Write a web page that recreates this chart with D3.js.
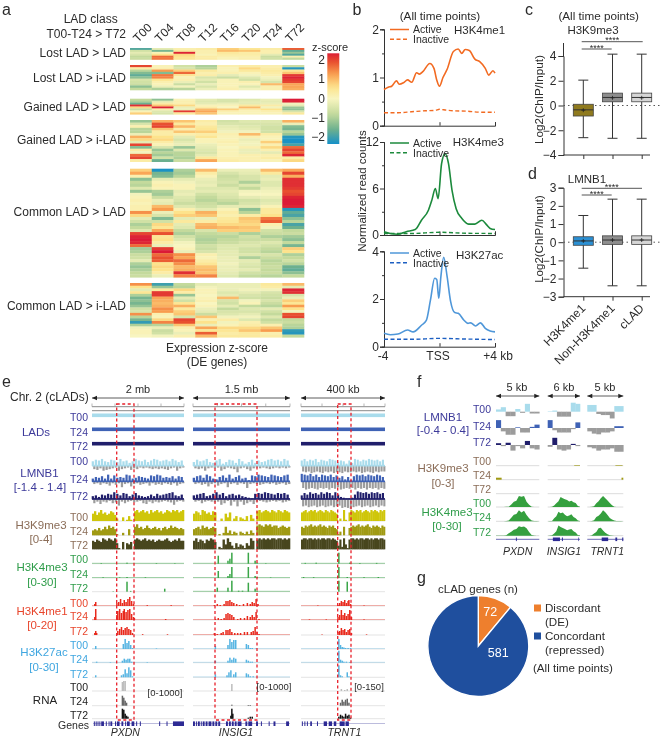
<!DOCTYPE html>
<html><head><meta charset="utf-8">
<script src="https://cdn.jsdelivr.net/npm/d3@7"></script>
<style>
html,body{margin:0;padding:0;background:#fff}
svg{display:block;font-family:"Liberation Sans",Arial,sans-serif;fill:#2b2b2b}
.blurred{filter:blur(0.4px)}
</style></head><body><div id="c"></div>
<script>
// ---------- panel a ----------
const timepoints=["T00","T04","T08","T12","T16","T20","T24","T72"];
const blockNames=["Lost LAD > LAD","Lost LAD > i-LAD","Gained LAD > LAD","Gained LAD > i-LAD","Common LAD > LAD","Common LAD > i-LAD"];
const lostLad=[[-1.8,-.3,.2,.3,.8,.5,.3,1.8],[-.6,-1.5,.4,.2,1,.9,.2,-1.7],[-.3,.1,2.3,.2,.4,.3,.2,-1.2],[-.5,.6,.7,.1,.3,.3,-.3,-1.8],[-.8,1.7,.6,.3,.2,.2,-.7,.2],[-.7,1.6,.5,.3,.1,.2,-.6,-.8]];
const lostILad=[[2,.1,-.6,-1,.2,.3,.2,-.7],[.3,.2,-.5,-.9,.1,.7,.3,-2.2],[-.9,1.3,.8,.4,.1,.4,.4,.5],[-1.4,-1.4,1.7,.2,.2,.1,.3,.9],[-1.7,1.6,.5,.3,-.3,-.1,.2,2.1],[-1.3,1.5,.1,-.5,-.7,-.4,-.1,2.3],[-.5,.5,.2,-.3,.1,-.6,-.2,2.1],[-.6,.2,-.2,-.6,.1,.2,-.5,2],[-.7,.1,-.7,-.2,.1,.1,1,1.2],[-1.3,-.2,-.1,-.5,.1,-.4,.2,1.2],[-.8,-1,-.9,-.2,.2,-.1,.2,1.1]];
const gainedLad=[[-.8,-1.3,.1,-.3,-.5,-.4,-.2,2.4],[-1,-.3,.2,-.4,-.5,-.3,-.3,2.3],[-1.6,.3,.2,-.3,-.2,-.3,-.2,-.1],[2.2,.9,.7,.1,.1,.4,.3,-.3],[.7,2.3,-.2,.3,0,1,-.1,-1.2],[-.7,.2,-.2,1,.8,.3,.6,-1.3],[.1,-.4,2.1,1.2,.2,.1,.2,-.5],[.8,-.5,.4,.9,.1,.1,.1,.4]];
const gainedILad=[[-1.2,1.1,.9,.3,-.6,-.4,-.4,1.1],[-.5,1.9,.4,.2,-.5,-.5,-.5,-.2],[.2,2,1,.4,-.3,-.4,-.6,-1.4],[-.9,.9,.2,.5,-.2,-.3,-.6,-1.5],[-.9,.3,.9,.8,-.1,-.1,-.6,-.9],[-.2,.3,.2,.3,.2,1,.3,-1.2],[1.1,.6,-.3,.5,.1,.2,.1,-2.2],[.7,.7,-.5,.1,.1,-.2,.1,-2.3],[-.3,.3,-.3,.1,.2,-.1,.8,-2.3],[2,.1,-.2,-.2,.1,-.1,.2,-1.9],[-1.4,-.5,-1.2,-.3,0,.2,.7,1.7],[.3,-1.2,-.4,-.4,.1,-.2,.2,2],[-.1,-.9,-.9,-.5,.1,-.2,-.3,1.7],[1.7,-1.1,-.9,-.3,.1,.2,.2,2.3],[2,-.6,-1,.4,.2,.2,.3,.3],[.3,-1.6,-.7,1.2,.3,.2,.1,.7]];
const commonLad=[[.8,-2.3,-1,1,-.2,-.2,1,1.2],[1.2,-1.5,-1.1,.3,-.5,-.3,.4,2],[.2,-1.4,-.9,.1,-.7,-.5,-.3,1.1],[-1.3,-.3,-.3,-.2,-.6,-.5,-.2,2.2],[-.8,.1,-.1,-.3,-.5,-1,-.4,2.2],[-.9,.2,.1,-.2,-.7,-.4,-.4,2.2],[-.4,.1,.1,-.4,-.4,-.8,-.2,2.1],[-1.2,-1,-.3,-.3,-.3,-.1,-.1,1.9],[-.1,-1.1,-.2,-.6,-.4,0,0,2],[.1,-.7,-.4,-.8,-.5,-.3,-.2,2.3],[.2,-.2,-.5,-.9,-.7,-.6,-.4,2.4],[.1,-.3,-.7,-.7,-.9,-.5,-.3,2.4],[.2,1,-.4,-.6,-.3,-.3,.1,2.3],[.2,1.3,.2,-.3,.1,-1.3,.4,-2.2],[1.4,-.2,.6,1.1,.3,-.9,.4,-1.7],[.7,-.5,.8,.9,.2,.3,.6,-1.9],[-.3,-1.4,-.3,-.2,.4,.9,1.6,-1.3],[-.6,-.6,.4,.3,.5,.8,1.8,-.9],[-1,.7,-.3,1,.7,.7,.2,-1.9],[-.8,.5,-.4,1.1,1,.9,-.1,-1.6],[-.4,1.2,-.8,-.5,.8,.8,-.6,-.8],[2,1.9,-1,-.8,-.7,-1,-.7,-.7],[2.3,.5,-.6,-.9,-.9,-.6,-1,-1.1],[2.4,.6,-.4,-1,-.8,-.7,-.7,-1.3],[2.3,.3,-.1,-.9,-.7,-.5,-.4,-.8],[1.7,-.2,0,-.6,-.4,-.4,-.6,-1.5],[-1.1,2.1,.1,-.7,-.4,-.6,-.8,.8],[-1,2.4,-.2,-.5,-.3,-.6,-.9,.6],[-.7,1.7,1.4,.2,-.3,-.4,-.5,-1],[-.6,1.9,1.2,.1,-.2,-1,-.7,-.8],[-.3,1.8,1.7,.3,-.2,-.3,-.9,-.6],[-1,.6,1.4,.5,-.1,-.4,-.8,-.9],[-1.2,.7,1,.9,-.2,-.5,-.7,-1.6],[-1,.6,1.1,1,-.2,-.3,-.8,-1.7],[-.8,.3,2.2,.9,-.3,-.6,-.7,-1.3],[-.7,-.2,1.5,1.5,-.4,-.8,-.9,-.8]];
const commonILad=[[1.4,-2,-.8,-.3,-.2,-.2,.4,1],[.6,-1.2,-.9,-.1,-.2,-.2,.3,-.3],[-.3,.4,.7,.1,-.2,-.1,-.1,2.3],[.5,2.1,.3,.1,-.4,-.3,-.5,2.2],[-1,2.1,-1.2,0,-.3,-.5,-.6,-.5],[-1.5,1.2,-.3,.1,1,-.6,-.7,-.2],[-1.3,1.1,-.6,.2,-.5,-.1,-.5,.8],[-1.5,1,.5,0,-.6,.1,-.7,.5],[-1.2,1.1,1.1,.1,-.3,-.8,-.9,1.3],[-.6,1.4,.4,-.2,-.8,-.4,-.3,.6],[-.5,1.3,.8,-.3,-.5,-.5,-.6,-.1],[1.4,.2,.9,-.7,-.4,-.3,-.8,1.9],[-.9,.1,-.5,.9,-.1,-.1,-.4,2],[-1.5,.7,2,.2,.3,-.4,-.8,-.8],[-2.1,1.5,1.9,.6,-.1,.2,-.6,-.7],[-1,-.9,.9,-.2,.1,.3,.2,-.9],[-.1,-.2,.2,1.2,.7,.7,.9,-1],[.1,-.7,.1,.5,.5,.9,1.3,-2.1],[.1,-.6,-.2,1.8,.3,.4,.2,-2.2],[0,-.1,.2,1,.4,.4,.3,-.8]];
const zTicks=[2,1,0,-1,-2];
// ---------- panel b ----------
const me1ActiveX=[-4,-3.7,-3.45,-3.1,-2.9,-2.6,-2.3,-2,-1.65,-1.45,-1.2,-.7,-.4,-.2,0,.25,.55,1,1.35,1.6,1.85,2.15,2.55,2.9,3.3,3.55,3.85,4];
const me1Active=[.75,.8,.82,.93,.86,.89,.95,.9,1.1,1.07,1.12,1.29,1.19,.95,.82,1,1.17,1.54,1.59,1.5,1.58,1.56,1.38,1.33,1.19,1.05,1.14,1.09];
const me1InactiveX=[-4,-3,-2,-1,-.3,0,.3,1,2,3,4];
const me1Inactive=[.27,.27,.29,.31,.32,.34,.33,.31,.3,.28,.28];
const me3ActiveX=[-4,-3.55,-3,-2.4,-1.75,-1.3,-.8,-.55,-.3,-.1,.15,.4,.65,.9,1.2,1.6,2.1,2.55,3.05,3.4,3.65,4];
const me3Active=[.43,.2,.1,.43,.7,1.9,3.2,4.5,6,4.7,9.2,10.5,9.2,5.8,3.4,2.15,1.4,1.4,1.9,1.3,.85,.7];
const me3InactiveX=[-4,-2,0,2,4];
const me3Inactive=[.2,.2,.35,.22,.2];
const acActiveX=[-4,-3.55,-3,-2.3,-1.9,-1.3,-.95,-.65,-.35,-.2,-.05,.1,.3,.55,.8,1.1,1.35,1.75,2.05,2.25,2.6,2.95,3.3,3.65,4];
const acActive=[.56,.5,.53,.7,.62,.9,1.1,1.96,2.87,2.82,2.03,2.94,3.75,2.94,1.9,1.43,1.4,1.12,.98,1,.87,1,.77,.66,.62];
const acInactiveX=[-4,-2,0,2,4];
const acInactive=[.31,.31,.35,.32,.3];
// ---------- panels c, d ----------
const boxCats=["H3K4me1","Non-H3K4me1","cLAD"];
const boxColorsC=["#8f7a1e","#8e8e8e","#d6d6d6"];
const boxColorsD=["#2b90d4","#8e8e8e","#d6d6d6"];
const k9Box=[[-2.6,-.85,-.35,.1,2.05,-.38],[-2.65,.3,.65,1,4.15,.62],[-2.65,.3,.65,1,4.15,.62]];
const lmnBox=[[-1.43,-.17,.07,.3,1.47,.07],[-2.4,-.12,.12,.35,2.37,.12],[-2.4,-.12,.12,.35,2.37,.12]];
// ---------- panel e ----------
const regionLabels=["2 mb","1.5 mb","400 kb"];
const geneNames=["PXDN","INSIG1","TRNT1"];
const lmnb1E=[[
[6,-4,8,-5,7,-3,9,-6,6,-5,5,-4,8,-3,7,-2,5,-6,9,-4,6,-3,7,-2,4,-5,6,-3,9,-4,7,-2,6,-3,8,-2,5,-3,7,-4,9,-3,8,-4,6,-3,7,-4,8,-5,6,-3,9,-2,7,-6,5,-3,7,-2],
[4,-3,6,-2,5,-4,7,-2,4,-3,9,-5,4,-2,8,-4,5,-2,6,-7,5,-3,9,-2,8,-6,4,-3,5,-2,7,-4,6,-3,5,-2,4,-5,8,-2,7,-4,9,-3,8,-4,5,-2,6,-3,5,-4,7,-2,4,-5,7,-3,6,-2],
[4,-5,5,-3,3,-6,6,-3,5,-4,7,-2,6,-5,9,-4,7,-8,5,-3,8,-5,7,-3,4,-2,6,-4,8,-3,5,-2,4,-5,3,-6,4,-3,6,-5,4,-3,7,-4,5,-3,6,-2,7,-3,8,-4,9,-7,5,-3,4,-2,6,-3]],
[
[5,-3,8,-4,6,-3,7,-6,9,-3,5,-2,4,-3,7,-2,9,-6,3,-4,5,-2,8,-3,7,-4,4,-8,9,-3,6,-2,3,-4,5,-6,8,-3,4,-2,7,-3,5,-2,6,-3,8,-4,9,-3,7,-2,8,-3,6,-2,9,-3,7,-2],
[5,-3,7,-2,8,-4,5,-3,9,-6,7,-3,4,-2,3,-5,6,-3,8,-2,5,-7,9,-3,4,-2,6,-4,8,-2,4,-3,5,-8,2,-3,8,-2,7,-3,9,-4,8,-3,7,-2,6,-3,9,-2,8,-4,7,-3,6,-2,8,-4,9,-3],
[5,-3,6,-2,7,-5,8,-3,4,-2,5,-3,7,-4,9,-3,6,-7,8,-5,4,-2,6,-8,7,-3,5,-9,6,-3,4,-7,3,-5,2,-3,1,-6,7,-3,8,-2,7,-3,9,-4,8,-3,7,-2,6,-3,8,-2,7,-4,8,-3,6,-2]],
[
[7,-7,9,-8,6,-7,8,-9,7,-8,9,-7,5,-8,8,-9,7,-7,6,-8,9,-7,8,-9,7,-8,5,-8,7,-9,6,-7,3,-8,7,-8,4,-7,9,-8,8,-7,6,-9,8,-8,7,-7,9,-8,8,-9,7,-7,8,-8,6,-7,8,-7],
[10,-8,9,-10,8,-9,10,-8,7,-9,9,-10,6,-8,9,-9,8,-8,7,-10,9,-8,6,-9,8,-7,5,-10,7,-9,3,-8,6,-9,2,-8,7,-10,9,-8,8,-9,9,-8,7,-10,9,-8,8,-9,7,-8,9,-10,8,-8,6,-9],
[5,-9,8,-8,6,-10,9,-9,7,-8,8,-10,6,-9,9,-8,7,-10,9,-9,8,-8,5,-10,9,-9,6,-8,3,-11,2,-10,1,-11,1,-12,2,-10,6,-9,10,-8,9,-10,8,-9,9,-8,7,-10,9,-9,8,-8,9,-10,7,-8,8,-9]]];
const k9E=[[
[6,8,5,7,9,6,7,5,6,8,7,5,2,0,0,3,0,1,4,1,0,8,9,7,8,9,7,8,6,9,7,8,9,7,8,6,7,9,8,7,9,8,9,7,8,9],
[4,5,4,6,4,5,7,5,8,6,7,5,1,0,0,2,0,0,5,0,0,7,9,6,7,5,6,8,6,5,6,7,5,6,4,6,7,5,6,8,6,7,6,5,6,5],
[7,6,8,7,6,9,8,7,9,8,7,9,5,1,0,6,0,5,4,6,0,8,9,8,7,8,9,7,8,7,8,6,7,8,7,7,8,9,7,6,7,8,7,9,7,7]],
[
[6,8,7,5,9,8,6,7,5,8,7,0,0,2,0,6,3,7,0,2,4,0,3,2,1,4,0,5,2,0,8,9,7,8,9,8,7,9,8,7,9,8,7,9,8,7],
[5,6,7,5,8,6,7,5,6,7,6,0,1,0,2,7,2,4,1,3,2,0,3,2,1,3,1,4,2,0,8,9,8,7,9,8,9,7,8,8,6,7,8,7,6,7],
[7,9,6,8,7,5,8,7,9,8,6,0,2,1,8,4,9,6,3,1,5,2,4,3,1,5,3,9,7,0,8,9,8,9,8,9,8,9,9,8,9,9,8,9,8,9]],
[
[7,8,9,7,8,9,8,9,7,8,9,8,7,9,8,7,9,8,7,6,0,2,0,9,1,0,7,9,8,7,9,8,9,7,8,9,8,7,9,8,9,8,7,9,8,9],
[7,6,8,7,8,9,7,8,7,8,9,7,8,7,6,8,7,8,6,5,1,3,0,7,0,0,6,7,8,7,8,9,7,8,7,8,9,7,6,8,7,8,7,6,8,7],
[8,9,9,8,9,9,8,9,8,9,8,9,9,8,9,9,8,9,8,7,3,8,2,9,4,1,8,9,9,8,9,8,9,9,8,9,9,8,9,8,9,9,8,9,9,8]]];
const me3E=[[
[[38,1],[10,.6],[70,.6],[90,.5]],
[[12,.7],[38,1],[58,.7],[30,.6]],
[[38,10],[79,3],[42,.8],[23,.4]]],
[
[[26,8],[36,3],[38,5],[40,11],[57,11],[64,3],[66,1],[75,.5]],
[[26,7],[36,2],[38,4],[40,11],[57,11],[64,2],[66,1],[80,.5]],
[[25,4],[36,4],[40,11],[47,1],[51,1],[57,9],[64,3],[66,1]]],
[
[[45,11],[5,.8],[18,1],[58,1],[70,.7],[90,.8]],
[[45,11],[3,1],[15,.8],[55,1],[75,.8],[92,1]],
[[45,11],[55,10]]]];
const me1E=[[
[[4,4],[3,2],[27,3],[29,4],[31,7],[33,3],[35,6],[37,4],[39,7],[41,9],[43,5],[45,2],[60,.8],[86,.8]],
[[4,11],[3,3],[27,5],[28,9],[30,11],[32,7],[34,9],[35,11],[37,8],[39,10],[41,11],[43,6],[45,3],[46,2],[80,1]],
[[4,4],[3,2],[5,2],[28,4],[30,6],[32,8],[34,5],[36,7],[38,8],[40,6],[42,5],[44,2],[55,.8],[82,.7]]],
[
[[22,1],[25,2],[28,1],[32,2],[34,5],[36,5],[38,6],[40,4],[42,3],[45,2],[48,1],[52,2],[56,3],[59,2],[61,4],[63,3],[65,7],[67,2]],
[[23,1],[26,2],[29,1],[32,2],[34,6],[36,7],[38,6],[40,5],[42,3],[46,1],[49,2],[53,2],[56,4],[59,3],[61,5],[63,3],[65,8],[68,1]],
[[22,2],[25,1],[29,2],[31,3],[34,5],[36,5],[38,6],[40,3],[43,2],[46,2],[49,2],[53,3],[56,3],[60,3],[62,4],[64,8],[66,3],[68,1]]],
[
[[44,1],[46,3],[48,5],[50,4],[52,6],[54,3],[56,5],[57,6],[59,2],[20,.5],[75,.5]],
[[44,3],[46,5],[48,10],[50,5],[52,7],[54,4],[56,6],[58,10],[60,3],[10,.6],[30,.6],[75,.6]],
[[44,3],[46,4],[48,7],[50,5],[52,6],[54,3],[56,5],[58,6],[60,2],[25,.5],[78,.6]]]];
const acE=[[
[[4,3],[34,5],[36,10],[38,6],[40,8],[42,4],[44,1],[70,.5]],
[[5,1],[20,.5],[33,2],[35,4],[37,3],[39,4],[41,4],[43,1],[60,.5]],
[[4,2],[32,2],[34,3],[36,8],[38,4],[40,10],[42,7],[44,1]]],
[
[[23,3],[36,4],[38,10],[40,7],[42,9],[44,9],[55,5],[57,4],[59,1],[61,1],[65,.5]],
[[23,2],[36,2],[38,5],[40,3],[42,5],[44,4],[55,3],[57,2],[59,1],[61,1]],
[[23,3],[35,2],[37,5],[39,7],[42,3],[44,5],[55,4],[57,3],[59,1],[62,1]]],
[
[[45,10],[47,4],[49,2],[51,1.5],[53,1],[56,1],[59,1]],
[[45,12],[47,3],[49,2],[51,1],[54,1],[58,.7]],
[[45,12],[47,2],[49,1],[55,5],[57,1]]]];
const rnaE=[[
[[33,9],[34.5,10],[36,10]],
[[33,10],[34.5,8],[36,5],[37.5,3]],
[[33,10],[34.5,9],[36,5],[37.5,3],[39,2]]],
[
[[40,7]],
[[40,1],[57,.7],[59,.7]],
[[39,3],[40,10],[41,5],[57,1],[59,2],[61,2]]],
[
[[48,2],[52,1],[55,2]],
[[47,3],[49,6],[51,4],[53,6],[55,7],[57,3]],
[[45,2],[47,4],[49,3],[51,2],[53,5],[55,3],[57,4],[59,1]]]];
const genesE=[
[[2,3],[4,5],[6,7],[8,9],[10,13],[15,16],[18,19],[20,22],[25,26],[27,30],[32,34],[36,37],[38,41],[43,46],[48,49],[52,53],[73,74],[81,82],[88,100]],
[[0,2],[3,4],[5,7],[8,9],[10,12],[13,15],[16,19],[20,22],[23,25],[26,28],[34,36],[37,39],[40,42],[43,45],[46,50],[54,56],[57,61],[65,67],[70,71],[78,79],[83,85],[96,99]],
[[1,2],[4,5],[7,8],[11,13],[19,20],[27,31],[33,37],[39,42],[46,52],[53,57]]];
// ---------- panel f ----------
const fRegions=["5 kb","6 kb","5 kb"];
const lmnb1F=[[
[.1,.2,-.2,-.2,.12,-.05,.35,-.08,-.08],[.35,-.15,-.3,-.3,.03,-.2,-.2,.05,.15],[.08,-.05,.1,-.25,-.05,-.15,.18,-.15,-.2]],
[[.02,.05,-.22,-.22,-.22,.4,.35],[.35,-.1,-.2,-.2,-.2,-.05,.25],[-.08,.32,-.2,-.25,-.2,.05,-.05]],
[[.3,.3,-.1,-.15,-.15,-.3,.25,.25],[-.15,-.25,-.28,-.2,-.2,-.15,.08,.08],[-.1,-.15,-.25,-.2,-.2,-.15,-.3,-.3]]];
const k9F=[[[],[[0,13,.5]],[]],[[[82,100,.15]],[],[]],[[[78,98,.15]],[[95,100,.5]],[]]];
const me3F=[[
[0,0,0,.3,.5,1,7,14,17,30,28,30,14,6,1,.3,.2,.1],
[0,0,.2,.3,.6,2,10,18,20,30,24,29,17,8,2,.5,.5,.3],
[.5,.5,.3,.3,1,7,11,16,18,26,24,25,20,10,2,.3,.2,.1]],
[
[0,.3,.5,4,10,16,27,24,21,19,15,17,13,11,3,1],
[.3,.5,1,8,14,26,22,24,18,14,16,19,12,8,2,1],
[.2,.4,1,6,12,28,24,21,18,15,17,18,12,9,2,1]],
[
[0,0,.5,2,10,16,24,30,24,18,11,5,1,.2,.1,0,0],
[0,.3,1,3,12,15,21,30,25,17,9,5,2,1,1,.5,.3],
[0,.2,1,6,10,20,22,14,8,4,1,.5,.2,0,0,0,0]]];
const genesF=[[[46,48]],[[16,38],[44,47],[95,97]],[[40,58],[78,83],[97,100]]];
// ---------- panel g ----------
const pieValues=[72,581];
const pieLabels=["72","581"];
const pieColors=["#ee7f2d","#1f4f9e"];

// ---------- drawing ----------
const svg=d3.select("#c").append("svg").attr("width",661).attr("height",738);
const g=svg.append("g").attr("class","blurred");
function txt(x,y,s,size,o={}){
  const t=g.append("text").attr("x",x).attr("y",y).attr("font-size",size).attr("text-anchor",o.anchor||"start").attr("fill",o.fill||"#2b2b2b").text(s);
  if(o.rotate!=null)t.attr("transform",`rotate(${o.rotate},${x},${y})`);
  if(o.italic)t.attr("font-style","italic");
  return t;
}
function styleAxis(a,size){
  a.selectAll("path,line").attr("stroke","#333").attr("stroke-width",1);
  a.selectAll("text").attr("font-size",size).attr("fill","#2b2b2b").attr("font-family","inherit");
}
[["a",2,14.5],["b",352.5,14.5],["c",525,14.5],["d",528,179],["e",2,387],["f",417,387],["g",417,583]].forEach(d=>txt(d[1],d[2],d[0],16));

// a
const heatX=d3.scaleBand().domain(timepoints).range([130,304]);
const zColor=d3.scaleLinear().domain([-2.35,-1.6,-.8,0,.6,1.3,1.9,2.35]).range(["#1590c8","#6cb08e","#c4da9c","#f8f5c0","#fde38c","#f89c4e","#e8502f","#dc1f36"]);
const blocks=[lostLad,lostILad,gainedLad,gainedILad,commonLad,commonILad];
const blockY=[[48,59.5],[65,90],[98.7,114.3],[120,161.7],[168.7,277.3],[283,337.3]];
const blockLabelY=[57,82,111,144,216,310];
blocks.forEach((rows,b)=>{
  const y=d3.scaleBand().domain(d3.range(rows.length)).range(blockY[b]);
  const gb=g.append("g");
  rows.forEach((row,i)=>{
    gb.selectAll(null).data(row).join("rect")
      .attr("x",(d,j)=>heatX(timepoints[j])).attr("y",y(i)).attr("width",heatX.bandwidth()+.3).attr("height",y.bandwidth()+.3)
      .attr("fill",d=>zColor(d));
  });
  txt(126,blockLabelY[b],blockNames[b],12,{anchor:"end"});
});
txt(90.7,22.5,"LAD class",12,{anchor:"middle"});
txt(126,38,"T00-T24 > T72",12,{anchor:"end"});
timepoints.forEach(t=>txt(heatX(t)+8,43,t,12,{rotate:-45}));
txt(217,352,"Expression z-score",12,{anchor:"middle"});
txt(217,366,"(DE genes)",12,{anchor:"middle"});
const zLegend=d3.scaleLinear().domain([2.35,-2.35]).range([53.3,144]);
const grad=svg.append("defs").append("linearGradient").attr("id","zg").attr("x1",0).attr("x2",0).attr("y1",0).attr("y2",1);
d3.range(0,1.001,.05).forEach(f=>grad.append("stop").attr("offset",f).attr("stop-color",zColor(2.35-4.7*f)));
g.append("rect").attr("x",327.3).attr("y",zLegend(2.35)).attr("width",12).attr("height",zLegend(-2.35)-zLegend(2.35)).attr("fill","url(#zg)");
zTicks.forEach(v=>txt(325,zLegend(v)+4,v<0?"\u2212"+(-v):String(v),12,{anchor:"end"}));
txt(312,51,"z-score",11);

// b
const bx=d3.scaleLinear().domain([-4,4]).range([384,495]);
function lineG(xs,ys,y,color,w,dash){
  const l=d3.line().x(d=>bx(xs[d])).y(d=>y(ys[d])).curve(d3.curveMonotoneX);
  const p=g.append("path").attr("d",l(d3.range(xs.length))).attr("fill","none").attr("stroke",color).attr("stroke-width",w);
  if(dash)p.attr("stroke-dasharray",dash);
}
const bPlots=[
 {dom:[0,2],rng:[125.7,29.3],ticks:[0,1,2],minor:[.5,1.5],ax:me1ActiveX,a:me1Active,ix:me1InactiveX,i:me1Inactive,c:"#f26a21",c2:"#f26a21",name:"H3K4me1",ny:34,nx:454,ly:29.5},
 {dom:[0,12],rng:[235,142],ticks:[0,6,12],minor:[3,9],ax:me3ActiveX,a:me3Active,ix:me3InactiveX,i:me3Inactive,c:"#1c8a3c",c2:"#1c8a3c",name:"H3K4me3",ny:146,nx:452.7,ly:143},
 {dom:[0,4],rng:[346.7,251.3],ticks:[0,2,4],minor:[1,3],ax:acActiveX,a:acActive,ix:acInactiveX,i:acInactive,c:"#4f97d9",c2:"#1c5fc2",name:"H3K27ac",ny:259,nx:456,ly:253}];
bPlots.forEach((p,idx)=>{
  const y=d3.scaleLinear().domain(p.dom).range(p.rng);
  styleAxis(g.append("g").attr("transform","translate(384,0)").call(d3.axisLeft(y).tickValues(p.ticks).tickSize(4).tickPadding(1).tickFormat(d3.format("d"))),12);
  styleAxis(g.append("g").attr("transform","translate(384,0)").call(d3.axisLeft(y).tickValues(p.minor).tickSize(2).tickFormat("")),12);
  styleAxis(g.append("g").attr("transform",`translate(0,${p.rng[0]})`).call(d3.axisBottom(bx).tickValues([-4,0,4]).tickSize(-3.5).tickFormat("")),12);
  lineG(p.ix,p.i,y,p.c2,1.4,"4 2.5");
  lineG(p.ax,p.a,y,p.c,1.6);
  g.append("line").attr("x1",390).attr("x2",409).attr("y1",p.ly).attr("y2",p.ly).attr("stroke",p.c).attr("stroke-width",1.5);
  g.append("line").attr("x1",390).attr("x2",409).attr("y1",p.ly+9.7).attr("y2",p.ly+9.7).attr("stroke",p.c2).attr("stroke-width",1.5).attr("stroke-dasharray","4 2.5");
  txt(413,p.ly+3.5,"Active",10.5);txt(413,p.ly+13.5,"Inactive",10.5);
  txt(p.nx,p.ny,p.name,11.5);
});
txt(440,20,"(All time points)",11.7,{anchor:"middle"});
txt(365.5,191,"Normalized read counts",11.5,{anchor:"middle",rotate:-90});
txt(383,360,"-4",12,{anchor:"middle"});txt(438,360,"TSS",12,{anchor:"middle"});txt(498,360,"+4 kb",12,{anchor:"middle"});

// c,d
const boxX=d3.scalePoint().domain(boxCats).range([583.3,641.7]);
function boxPlot(data,colors,dom,rng,ticks,axisTop,zeroEnd){
  const y=d3.scaleLinear().domain(dom).range(rng);
  styleAxis(g.append("g").attr("transform","translate(563.5,0)").call(d3.axisLeft(y).tickValues(ticks).tickSize(5).tickPadding(2).tickFormat(d3.format("d"))),12);
  g.append("line").attr("x1",563.5).attr("x2",563.5).attr("y1",rng[1]).attr("y2",axisTop).attr("stroke","#333");
  g.append("line").attr("x1",563.5).attr("x2",zeroEnd).attr("y1",y(0)).attr("y2",y(0)).attr("stroke","#555").attr("stroke-dasharray","1.5 3");
  const xa=g.append("g").attr("transform",`translate(0,${rng[0]})`).call(d3.axisBottom(boxX).tickSize(4).tickFormat(""));
  styleAxis(xa,12);
  xa.select("path.domain").attr("d","M563.5,0H650");
  data.forEach((b,i)=>{
    const cx=boxX(boxCats[i]),hw=10;
    g.append("line").attr("x1",cx).attr("x2",cx).attr("y1",y(b[0])).attr("y2",y(b[4])).attr("stroke","#333");
    [b[0],b[4]].forEach(v=>g.append("line").attr("x1",cx-5).attr("x2",cx+5).attr("y1",y(v)).attr("y2",y(v)).attr("stroke","#333"));
    g.append("rect").attr("x",cx-hw).attr("width",hw*2).attr("y",y(b[3])).attr("height",y(b[1])-y(b[3])).attr("fill",colors[i]).attr("stroke","#444").attr("stroke-width",.8);
    g.append("line").attr("x1",cx-hw).attr("x2",cx+hw).attr("y1",y(b[2])).attr("y2",y(b[2])).attr("stroke","#333");
    g.append("path").attr("d",`M${cx-2},${y(b[5])}h4M${cx},${y(b[5])-2}v4`).attr("stroke","#222").attr("stroke-width",.8);
  });
}
boxPlot(k9Box,boxColorsC,[-4,4],[155,56],[-4,-2,0,2,4],43,660);
boxPlot(lmnBox,boxColorsD,[-3,3],[296.7,187.7],[-3,-2,-1,0,1,2,3],187.7,660);
function sig(x1,x2,y){
  g.append("line").attr("x1",x1).attr("x2",x2).attr("y1",y).attr("y2",y).attr("stroke","#555");
  txt((x1+x2)/2,y+1.5,"****",9,{anchor:"middle"});
}
sig(581.7,611.7,49);sig(581.7,642.7,41.7);sig(581.7,611.7,195);sig(581.7,642,188.3);
txt(598.7,20,"(All time points)",11.7,{anchor:"middle"});
txt(593,34,"H3K9me3",11.5,{anchor:"middle"});
txt(587,183,"LMNB1",11.5,{anchor:"middle"});
txt(543,99.5,"Log2(ChIP/Input)",11.7,{anchor:"middle",rotate:-90});
txt(543,239,"Log2(ChIP/Input)",11.5,{anchor:"middle",rotate:-90});
boxCats.forEach(c=>txt(boxX(c)+3,309,c,12,{anchor:"end",rotate:-45}));

// e
const eCols=[[92,184],[193,290],[301,385]];
const eBoxes=[[116.7,134],[215,257],[337.7,351]];
const ePct=eCols.map(c=>d3.scaleLinear().domain([0,100]).range(c));
function arrow(x1,x2,y,label,lx){
  g.append("path").attr("d",`M${x1},${y}H${x2}`).attr("stroke","#333").attr("stroke-width",.8);
  g.append("path").attr("d",`M${x1+5},${y-2.2}L${x1},${y}L${x1+5},${y+2.2}ZM${x2-5},${y-2.2}L${x2},${y}L${x2-5},${y+2.2}Z`).attr("fill","#222");
  txt(lx,y-5,label,11,{anchor:"middle"});
}
txt(10,401,"Chr. 2 (cLADs)",12);
const trackCols={lad:["#a9dcec","#3f62b5","#201e6b"],lmn:["#a9dcec","#3f62b5","#201e6b"],k9:["#cfc60a","#a09a12","#48461e"],me3:"#3aa648",me1:"#e8291c",ac:"#55b4e2",rna:["#bdbdbd","#666","#111"]};
const y_lad=[415.3,429.3,443.7],y_lmn=[466,481.7,499.3],y_k9=[521,535.3,549.3],y_me3=[563.7,578,591.7],y_me1=[606,620,635],y_ac=[649,662.7,677.3],y_rna=[691,705.7,718.7],y_gene=723.7;
const tLab=["T00","T24","T72"];
const groupLabels=[
 {f:"#3d3a9a",lab:[["LADs",36,436]],ly:[421,436,450]},
 {f:"#3d3a9a",lab:[["LMNB1",39.5,477],["[-1.4 - 1.4]",40,491]],ly:[465,483,500]},
 {f:"#8b6d58",lab:[["H3K9me3",41,529],["[0-4]",41,543]],ly:[521,535,549]},
 {f:"#2f9d4a",lab:[["H3K4me3",42,571],["[0-30]",42,586]],ly:[563,578,592]},
 {f:"#e8452c",lab:[["H3K4me1",42,615],["[0-20]",42,629]],ly:[607,620,635]},
 {f:"#3fa6e0",lab:[["H3K27ac",44,656],["[0-30]",44,671]],ly:[649,663,678]},
 {f:"#222",lab:[["RNA",45,704]],ly:[691,705,719]}];
groupLabels.forEach(G=>{
  G.lab.forEach(l=>txt(l[1],l[2],l[0],11.5,{anchor:"middle",fill:G.f}));
  G.ly.forEach((y,i)=>txt(88,y,tLab[i],10.5,{anchor:"end",fill:G.f}));
});
txt(89,729,"Genes",10.5,{anchor:"end"});
eCols.forEach((c,k)=>{
  const x=ePct[k];
  arrow(c[0],c[1],398,regionLabels[k],(c[0]+c[1])/2);
  g.append("line").attr("x1",c[0]).attr("x2",c[1]).attr("y1",406.7).attr("y2",406.7).attr("stroke","#8a8a8a");
  g.append("line").attr("x1",c[0]).attr("x2",c[1]).attr("y1",410.7).attr("y2",410.7).attr("stroke","#8a8a8a");
  [0,25,50,75,100].forEach(v=>g.append("line").attr("x1",x(v)).attr("x2",x(v)).attr("y1",403.5).attr("y2",406.7).attr("stroke","#999").attr("stroke-width",.7));
  const base=(y)=>g.append("line").attr("x1",c[0]).attr("x2",c[1]).attr("y1",y).attr("y2",y).attr("stroke","#dcdcdc").attr("stroke-width",.8);
  // LAD bars
  y_lad.forEach((y,i)=>{g.append("rect").attr("x",c[0]).attr("width",c[1]-c[0]).attr("y",y-1.8).attr("height",3.6).attr("fill",trackCols.lad[i]);});
  // LMNB1
  lmnb1E[k].forEach((vals,i)=>{
    const bs=d3.scaleBand().domain(d3.range(vals.length)).range(c);
    const h=d3.scaleLinear().domain([-14,14]).range([y_lmn[i]+11,y_lmn[i]-11]);
    g.selectAll(null).data(vals).join("rect").attr("x",(d,j)=>bs(j)-.3).attr("width",bs.bandwidth()+.7)
      .attr("y",d=>h(Math.max(d,0))).attr("height",d=>Math.abs(h(d)-h(0))).attr("fill",d=>d>0?trackCols.lmn[i]:"#9c9c9c");
    g.append("rect").attr("x",c[0]).attr("width",c[1]-c[0]).attr("y",h(1.5)).attr("height",h(0)-h(1.5)+.5).attr("fill",trackCols.lmn[i]);
  });
  // H3K9me3
  k9E[k].forEach((vals,i)=>{
    const bs=d3.scaleBand().domain(d3.range(vals.length)).range(c);
    const h=d3.scaleLinear().domain([0,9]).range([y_k9[i],y_k9[i]-11]);
    base(y_k9[i]);
    g.selectAll(null).data(vals).join("rect").attr("x",(d,j)=>bs(j)).attr("width",bs.bandwidth()+.3).attr("y",d=>h(d)).attr("height",d=>h(0)-h(d)).attr("fill",trackCols.k9[i]);
  });
  // sparse tracks
  const sparse=(data,ys,col,opts={})=>data[k].forEach((list,i)=>{
    const cc=Array.isArray(col)?col[i]:col;
    base(ys[i]);
    if(opts.line)g.append("line").attr("x1",c[0]).attr("x2",c[1]).attr("y1",ys[i]-.4).attr("y2",ys[i]-.4).attr("stroke",cc).attr("stroke-width",.7).attr("opacity",i==2&&k!=1?0:opts.line);
    g.selectAll(null).data(list).join("rect").attr("x",d=>x(d[0])-.7).attr("width",1.5).attr("y",d=>ys[i]-d[1]).attr("height",d=>d[1]).attr("fill",cc);
  });
  sparse(me3E,y_me3,trackCols.me3,{line:.7});
  sparse(me1E,y_me1,trackCols.me1,{line:.55});
  sparse(acE,y_ac,trackCols.ac,{line:.45});
  sparse(rnaE,y_rna,trackCols.rna);
  // genes
  g.append("line").attr("x1",c[0]+1).attr("x2",c[1]).attr("y1",y_gene).attr("y2",y_gene).attr("stroke","#3a3a9a").attr("stroke-width",.6).attr("opacity",.7);
  g.selectAll(null).data(genesE[k]).join("rect").attr("x",d=>x(d[0])).attr("width",d=>Math.max(x(d[1])-x(d[0]),1)).attr("y",y_gene-2.3).attr("height",4.6).attr("fill","#2d2a94");
  txt((eBoxes[k][0]+eBoxes[k][1])/2,736,geneNames[k],10.5,{anchor:"middle",italic:true});
  // red box
  g.append("rect").attr("x",eBoxes[k][0]).attr("width",eBoxes[k][1]-eBoxes[k][0]).attr("y",404).attr("height",316).attr("fill","none").attr("stroke","#e8202a").attr("stroke-width",1.3).attr("stroke-dasharray","3 2.5");
});
txt(165,696,"[0-1000]",9.5,{anchor:"middle"});
txt(274,690,"[0-1000]",9.5,{anchor:"middle"});
txt(369,690,"[0-150]",9.5,{anchor:"middle"});

// f
const fCols=[[496,539.3],[547.7,580],[587.3,623.3]];
const fLabelX=[517,564,605];
const yf_lmn=[411.7,428,445],yf_k9=[465.7,479.7,493.7],yf_me3=[507,521.3,535.7],yf_gene=539.3;
const fGroups=[
 {y:[413,430,446],f:"#3d3a9a",lab:[["LMNB1",443,421],["[-0.4 - 0.4]",443,434]]},
 {y:[465,478.7,493],f:"#8b6d58",lab:[["H3K9me3",443,472],["[0-3]",443,487]]},
 {y:[507,521,536],f:"#2f9d4a",lab:[["H3K4me3",447,516],["[0-30]",447,530]]}];
fGroups.forEach(G=>{
  G.lab.forEach(l=>txt(l[1],l[2],l[0],11.5,{anchor:"middle",fill:G.f}));
  G.y.forEach((y,i)=>txt(491,y,tLab[i],10.5,{anchor:"end",fill:G.f}));
});
fCols.forEach((c,k)=>{
  arrow(c[0],c[1],396,fRegions[k],fLabelX[k]);
  const x=d3.scaleLinear().domain([0,100]).range(c);
  lmnb1F[k].forEach((vals,i)=>{
    const bs=d3.scaleBand().domain(d3.range(vals.length)).range(c);
    const h=d3.scaleLinear().domain([-.4,.4]).range([yf_lmn[i]+9,yf_lmn[i]-9]);
    g.selectAll(null).data(vals).join("rect").attr("x",(d,j)=>bs(j)).attr("width",bs.bandwidth()+.3)
      .attr("y",d=>h(Math.max(d,0))).attr("height",d=>Math.abs(h(d)-h(0))).attr("fill",d=>d>0?trackCols.lmn[i]:"#9c9c9c");
  });
  k9F[k].forEach((list,i)=>{
    g.append("line").attr("x1",c[0]).attr("x2",c[1]).attr("y1",yf_k9[i]).attr("y2",yf_k9[i]).attr("stroke","#dcdcdc");
    g.selectAll(null).data(list).join("rect").attr("x",d=>x(d[0])).attr("width",d=>x(d[1])-x(d[0])).attr("y",d=>yf_k9[i]-d[2]*4).attr("height",d=>d[2]*4).attr("fill","#a09a12");
  });
  me3F[k].forEach((vals,i)=>{
    const bs=d3.scalePoint().domain(d3.range(vals.length)).range(c);
    const h=d3.scaleLinear().domain([0,30]).range([yf_me3[i],yf_me3[i]-11]);
    g.append("line").attr("x1",c[0]).attr("x2",c[1]).attr("y1",yf_me3[i]).attr("y2",yf_me3[i]).attr("stroke","#dcdcdc");
    g.append("path").attr("d",d3.area().x((d,j)=>bs(j)).y0(h(0)).y1(d=>h(d)).curve(d3.curveLinear)(vals)).attr("fill","#35a03f");
  });
  g.append("line").attr("x1",c[0]).attr("x2",c[1]).attr("y1",yf_gene).attr("y2",yf_gene).attr("stroke","#2d2a94").attr("stroke-width",.7);
  g.selectAll(null).data(genesF[k]).join("rect").attr("x",d=>x(d[0])).attr("width",d=>x(d[1])-x(d[0])).attr("y",yf_gene-1.8).attr("height",3.6).attr("fill","#2d2a94");
  txt((c[0]+c[1])/2+(k==2?2:0),555,geneNames[k],10.5,{anchor:"middle",italic:true});
});

// g
const arcs=d3.pie().sort(null).value(d=>d)(pieValues);
const arc=d3.arc().innerRadius(0).outerRadius(50.5);
const pg=g.append("g").attr("transform","translate(478.3,646)");
pg.selectAll("path").data(arcs).join("path").attr("d",arc).attr("fill",(d,i)=>pieColors[i]).attr("stroke","#fff").attr("stroke-width",1.4);
const pieLabPos=[[12,-30],[20,11]];
pieLabels.forEach((s,i)=>pg.append("text").attr("x",pieLabPos[i][0]).attr("y",pieLabPos[i][1]).attr("text-anchor","middle").attr("font-size",12.5).attr("fill","#fff").text(s));
txt(438,593,"cLAD genes (n)",11.5);
g.append("rect").attr("x",534).attr("y",604.5).attr("width",7).attr("height",7).attr("fill",pieColors[0]);
g.append("rect").attr("x",534).attr("y",632.5).attr("width",7).attr("height",7).attr("fill",pieColors[1]);
txt(545,612,"Discordant",11.6);txt(545,626,"(DE)",11.6);txt(545,640,"Concordant",11.6);txt(545,654,"(repressed)",11.6);
txt(533,672,"(All time points)",11.6);
</script></body></html>
